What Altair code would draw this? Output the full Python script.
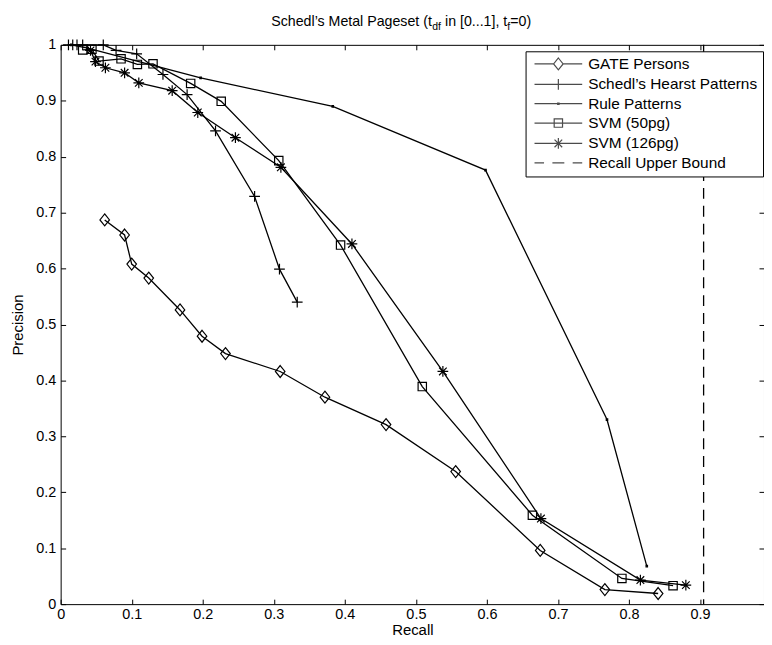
import altair as alt
import pandas as pd

FONT = "Liberation Sans"

# ---------------- data ----------------
series_names = ["GATE Persons", "Schedl\u2019s Hearst Patterns", "Rule Patterns", "SVM (50pg)", "SVM (126pg)"]
bound_name = "Recall Upper Bound"

gate_recall = [0.062, 0.090, 0.100, 0.124, 0.168, 0.199, 0.232, 0.309, 0.372, 0.458, 0.556, 0.675, 0.766, 0.841]
gate_precision = [0.687, 0.660, 0.608, 0.583, 0.526, 0.479, 0.448, 0.416, 0.370, 0.321, 0.237, 0.096, 0.026, 0.019]

schedl_recall = [0.011, 0.017, 0.023, 0.031, 0.060, 0.078, 0.107, 0.144, 0.178, 0.218, 0.273, 0.308, 0.333]
schedl_precision = [1.0, 1.0, 1.0, 1.0, 1.0, 0.990, 0.984, 0.947, 0.911, 0.846, 0.729, 0.599, 0.540]

rule_recall = [0.015, 0.038, 0.197, 0.383, 0.598, 0.769, 0.825]
rule_precision = [1.0, 0.994, 0.941, 0.890, 0.776, 0.330, 0.068]

svm50_recall = [0.031, 0.044, 0.054, 0.085, 0.108, 0.130, 0.183, 0.226, 0.307, 0.394, 0.509, 0.664, 0.790, 0.862]
svm50_precision = [0.991, 0.992, 0.971, 0.975, 0.965, 0.966, 0.931, 0.899, 0.793, 0.642, 0.389, 0.159, 0.046, 0.033]

svm126_recall = [0.042, 0.049, 0.063, 0.090, 0.110, 0.157, 0.193, 0.246, 0.310, 0.410, 0.538, 0.676, 0.816, 0.880]
svm126_precision = [0.990, 0.970, 0.959, 0.950, 0.932, 0.918, 0.879, 0.834, 0.781, 0.644, 0.416, 0.153, 0.043, 0.034]

recall_upper_bound = [0.905]

x_ticks = [round(i / 10, 1) for i in range(10)]
y_ticks = [round(i / 10, 1) for i in range(11)]

# ---------------- table ----------------
rows = []
for name, xs, ys in zip(series_names,
                        [gate_recall, schedl_recall, rule_recall, svm50_recall, svm126_recall],
                        [gate_precision, schedl_precision, rule_precision, svm50_precision, svm126_precision]):
    for i, (a, b) in enumerate(zip(xs, ys)):
        rows.append({"series": name, "idx": i, "recall": a, "precision": b})
df = pd.DataFrame(rows)

# ---------------- styling ----------------
W_PLOT, H_PLOT = 708, 563
X_MAX = 0.99

marker_paths = [
    "M0,-1L0.8,0L0,1L-0.8,0Z",                                   # diamond
    "M-0.9,0H0.9M0,-0.9V0.9",                                    # plus
    "M-0.12,-0.12H0.12V0.12H-0.12Z",                             # dot
    "M-0.7,-0.7H0.7V0.7H-0.7Z",                                  # square
    "M-0.9,0H0.9M0,-0.9V0.9M-0.64,-0.64L0.64,0.64M-0.64,0.64L0.64,-0.64",  # asterisk
]
legend_paths = [
    "M-4,0H-0.8M0.8,0H4M0,-1L0.8,0L0,1L-0.8,0Z",
    "M-4,0H4M0,-0.9V0.9",
    "M-4,0H4M-0.12,-0.12H0.12V0.12H-0.12Z",
    "M-4,0H4M-0.7,-0.7H0.7V0.7H-0.7Z",
    "M-4,0H4M0,-0.9V0.9M-0.64,-0.64L0.64,0.64M-0.64,0.64L0.64,-0.64",
    "M-4,0H-2.4M-1.0,0H1.0M2.4,0H4",
]

xenc = alt.X("recall:Q", scale=alt.Scale(domain=[0, X_MAX], nice=False, zero=False),
             axis=alt.Axis(values=x_ticks, format=".1~f", title="Recall",
                           grid=True, gridDash=[5, H_PLOT - 10, 5, 2000], gridColor="black",
                           gridOpacity=1, gridWidth=1, ticks=False, tickSize=0, domain=False,
                           labelFlush=False, labelOverlap=False, labelPadding=3,
                           labelFontSize=14.5,
                           titleY=31, titleBaseline="alphabetic"))
yenc = alt.Y("precision:Q", scale=alt.Scale(domain=[0, 1], nice=False, zero=False),
             axis=alt.Axis(values=y_ticks, format=".1~f", title="Precision",
                           grid=True, gridDash=[5, W_PLOT - 10, 5, 2000], gridColor="black",
                           gridOpacity=1, gridWidth=1, ticks=False, tickSize=0, domain=False,
                           labelFlush=False, labelOverlap=False, labelPadding=5,
                           labelFontSize=14.5,
                           titleX=-38, titleY=H_PLOT / 2, titleAngle=270,
                           titleAlign="center", titleBaseline="alphabetic"))

lines = alt.Chart(df).mark_line(color="black", strokeWidth=1.3).encode(
    x=xenc, y=yenc, detail="series:N", order="idx:Q")

markers = alt.Chart(df).mark_point(filled=False, size=144, color="black", strokeWidth=1.2, opacity=1).encode(
    x=xenc, y=yenc,
    shape=alt.Shape("series:N", scale=alt.Scale(domain=series_names, range=marker_paths), legend=None))

legend_layer = alt.Chart(df).transform_filter("false").mark_point(
    filled=False, size=144, color="black", strokeWidth=1.2).encode(
    x=xenc, y=yenc,
    shape=alt.Shape("series:N",
                    scale=alt.Scale(domain=series_names + [bound_name], range=legend_paths),
                    legend=alt.Legend(title=None, orient="none", legendX=468, legendY=6.5,
                                      padding=5, strokeColor="black", fillColor="white",
                                      cornerRadius=0, labelFont=FONT, labelFontSize=15.5,
                                      labelColor="black", labelLimit=400,
                                      labelOffset=22.25, symbolOffset=20.25, symbolSize=144,
                                      symbolStrokeWidth=1.2, symbolStrokeColor="black",
                                      symbolFillColor="transparent", rowPadding=2.5)))

bound = alt.Chart(pd.DataFrame({"recall": recall_upper_bound})).mark_rule(
    color="black", strokeDash=[11, 7], strokeWidth=1.3).encode(x=xenc)

# ---------------- title with subscripts ----------------
CW = {' ': 278, '(': 333, ')': 333, '[': 278, ']': 278, '.': 278, ',': 278, '=': 584,
      '0': 556, '1': 556, '\u2019': 222, 'S': 667, 'M': 833, 'P': 667, 'a': 556, 'c': 500,
      'd': 556, 'e': 556, 'f': 278, 'g': 556, 'h': 556, 'i': 222, 'l': 222, 'n': 556,
      's': 500, 't': 278}


def tw(s, fs):
    return sum(CW.get(c, 556) for c in s) * fs / 1000.0


# (text, font size, baseline shift, leading gap in main-size spaces)
title_parts = [("Schedl\u2019s Metal Pageset (t", 14.3, 0, 0), ("df", 10.5, 4, 0),
               ("in [0...1], t", 14.3, 0, 1), ("f", 10.5, 4, 0), ("=0)", 14.3, 0, 0)]
tx, ty = 212.0, -19.0
title_layers = []
for txt, fs, dy, gap in title_parts:
    tx += tw(" ", 14.3) * gap
    title_layers.append(
        alt.Chart(pd.DataFrame({"k": [0]})).mark_text(
            text=txt, font=FONT, fontSize=fs, align="left", baseline="alphabetic", color="black"
        ).encode(x=alt.value(tx), y=alt.value(ty + dy)))
    tx += tw(txt, fs)

chart = alt.layer(lines, markers, legend_layer, bound, *title_layers).resolve_scale(
    shape="independent"
).properties(
    width=W_PLOT, height=H_PLOT,
    padding={"left": 53, "top": 35, "right": 0, "bottom": 31},
    autosize=alt.AutoSizeParams(type="none"),
    background="white",
).configure_view(stroke="black", strokeWidth=1).configure_axis(
    labelFont=FONT, labelFontSize=15, labelColor="black",
    titleFont=FONT, titleFontSize=15, titleFontWeight="normal", titleColor="black",
)

chart.save("out.html", embed_options={"renderer": "svg", "actions": False})
